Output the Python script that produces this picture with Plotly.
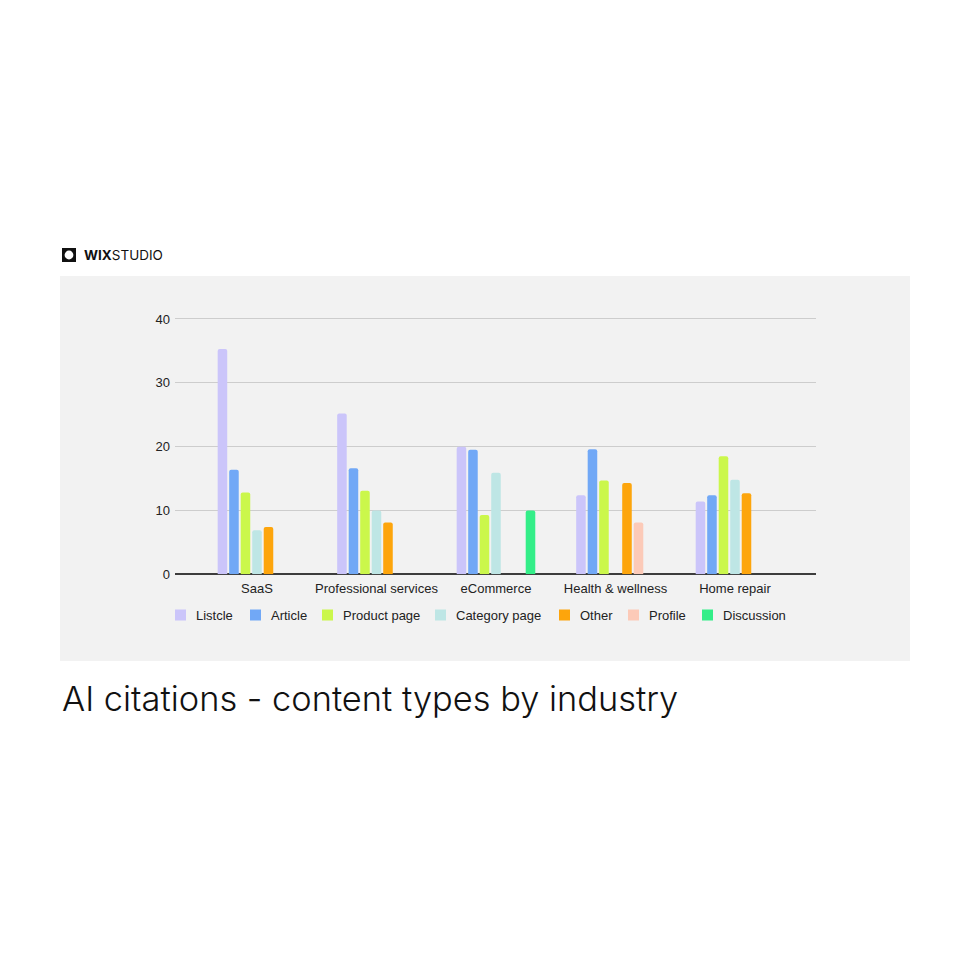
import plotly.graph_objects as go

# ---------------- data ----------------
industries = ["SaaS", "Professional services", "eCommerce", "Health & wellness", "Home repair"]
series_names = ["Listcle", "Article", "Product page", "Category page", "Other", "Profile", "Discussion"]

listcle = [35.3, 25.2, 20.0, 12.4, 11.4]
article = [16.4, 16.6, 19.5, 19.6, 12.4]
product_page = [12.8, 13.1, 9.3, 14.7, 18.5]
category_page = [6.9, 10.0, 15.9, None, 14.8]
other = [7.4, 8.1, None, 14.3, 12.7]
profile = [None, None, None, 8.1, None]
discussion = [None, None, 10.0, None, None]

y_ticks = [0, 10, 20, 30, 40]

series_values = [listcle, article, product_page, category_page, other, profile, discussion]
colors = ["#cbc5fa", "#71a8f6", "#cbf74b", "#bee6e5", "#fda50c", "#fccab8", "#33ee88"]

W = H = 960


def px(x):
    return x / W


def py(y):
    return 1 - y / H


fig = go.Figure()
for name, vals, col in zip(series_names, series_values, colors):
    fig.add_bar(x=industries, y=vals, name=name, marker_color=col,
                marker_line_width=0, showlegend=False)

AX_FONT = dict(family="Arial, Liberation Sans, sans-serif", size=13, color="#222222")

shapes = []
annotations = []

# grey panel
shapes.append(dict(type="rect", xref="paper", yref="paper", layer="below",
                   x0=px(60), x1=px(910), y0=py(661), y1=py(276),
                   fillcolor="#f2f2f2", line_width=0))

# logo
shapes.append(dict(type="rect", xref="paper", yref="paper",
                   x0=px(62), x1=px(76), y0=py(262), y1=py(248),
                   fillcolor="#111111", line_width=0))
shapes.append(dict(type="circle", xref="paper", yref="paper",
                   x0=px(64.6), x1=px(73.4), y0=py(259.4), y1=py(250.6),
                   fillcolor="#ffffff", line_width=0))
annotations.append(dict(text="<b>WIX</b>STUDIO", xref="paper", yref="paper",
                        x=px(82), y=py(255), xanchor="left", yanchor="middle",
                        showarrow=False,
                        font=dict(family="Inter, Arial, sans-serif", size=13.5, color="#111111")))

# custom legend
legend_square_x = [175, 250, 322, 435, 559, 628, 702]
for name, col, lx in zip(series_names, colors, legend_square_x):
    shapes.append(dict(type="rect", xref="paper", yref="paper",
                       x0=px(lx), x1=px(lx + 11), y0=py(620.5), y1=py(609.5),
                       fillcolor=col, line_width=0))
    annotations.append(dict(text=name, xref="paper", yref="paper",
                            x=px(lx + 19), y=py(615), xanchor="left", yanchor="middle",
                            showarrow=False, font=AX_FONT))

# title
annotations.append(dict(text="AI citations - content types by industry",
                        xref="paper", yref="paper", x=px(60), y=py(698),
                        xanchor="left", yanchor="middle", showarrow=False,
                        font=dict(family="Inter, Arial, sans-serif", size=34.4,
                                  weight=300, color="#111111")))

Y_TOP = 40.5
UNIT = (574.3 - 319) / 40.0

fig.update_layout(
    width=W, height=H, autosize=False,
    margin=dict(l=0, r=0, t=0, b=0),
    paper_bgcolor="#ffffff",
    plot_bgcolor="rgba(0,0,0,0)",
    barmode="group",
    bargap=0.326,
    bargroupgap=0.17,
    barcornerradius=2,
    shapes=shapes,
    annotations=annotations,
    showlegend=False,
    xaxis=dict(domain=[px(175), px(816)], type="category",
               range=[-0.686, 4.678], showgrid=False, showline=False,
               ticks="", tickfont=AX_FONT, ticklabelstandoff=5,
               automargin=False, fixedrange=True),
    yaxis=dict(domain=[py(574.3), py(574.3 - Y_TOP * UNIT)], range=[0, Y_TOP],
               tickvals=y_ticks, showgrid=True, gridcolor="#cdcdcd", gridwidth=1,
               zeroline=True, zerolinecolor="#3d3d3d", zerolinewidth=1.6,
               showline=False, ticks="", tickfont=AX_FONT,
               ticklabelstandoff=4, automargin=False, fixedrange=True),
)

fig.write_html("out.html")
